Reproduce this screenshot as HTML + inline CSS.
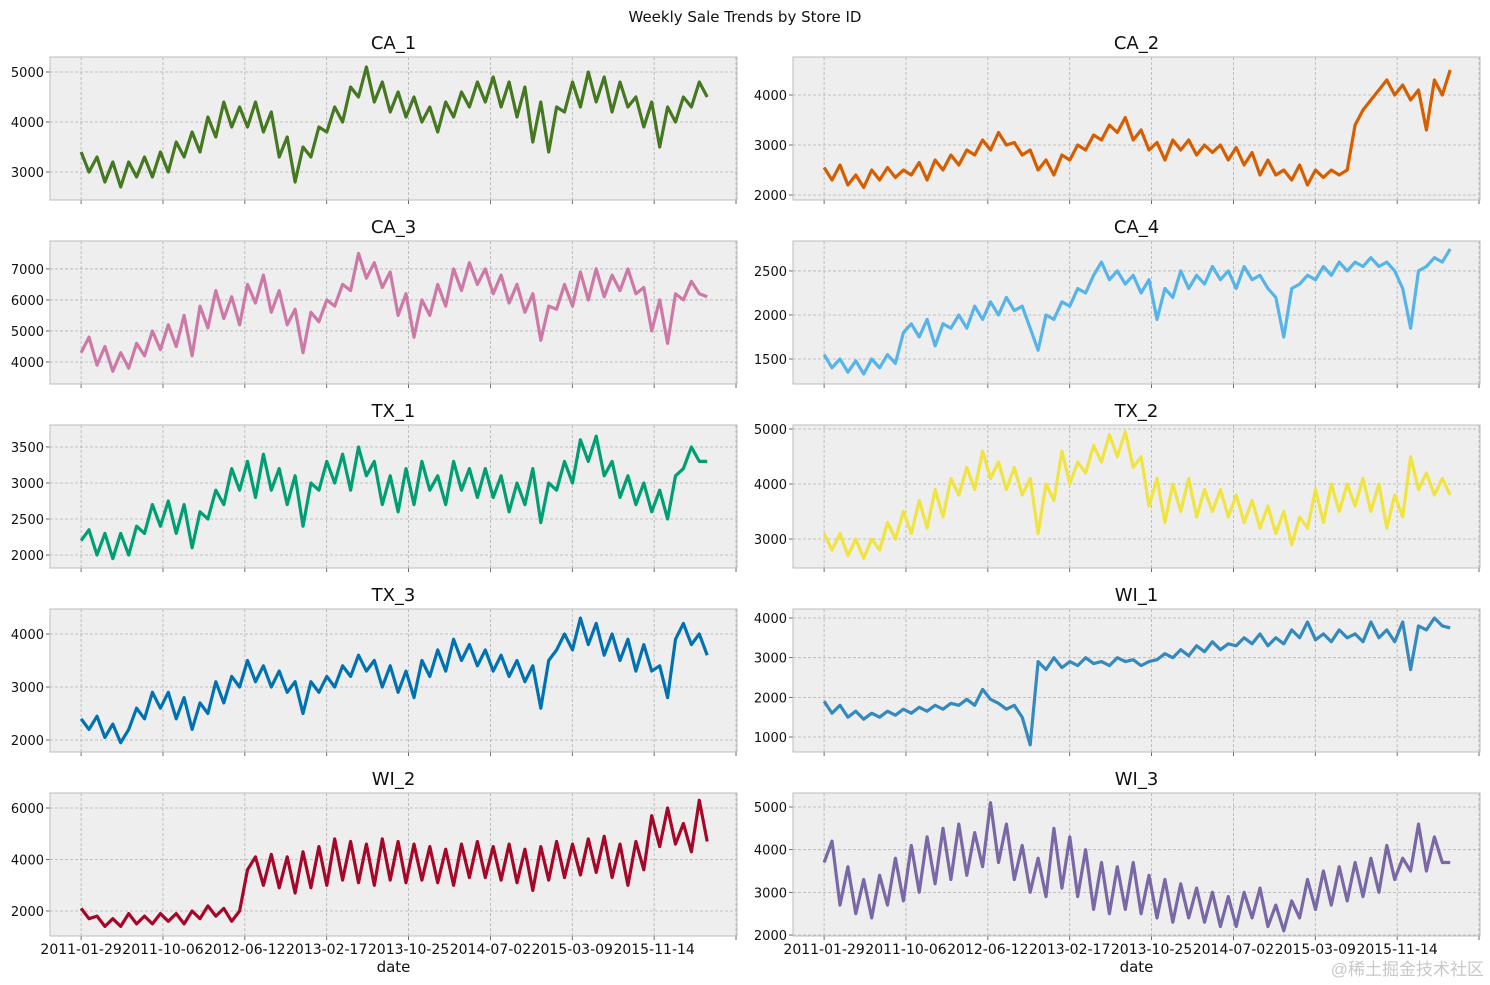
<!DOCTYPE html>
<html><head><meta charset="utf-8"><style>
html,body{margin:0;padding:0;background:#fff;}
svg{display:block;font-family:"DejaVu Sans","Liberation Sans",sans-serif;}
</style></head><body>
<svg id="fig" width="1490" height="985" viewBox="0 0 1490 985">
<text x="745" y="22" text-anchor="middle" font-size="15" fill="#111">Weekly Sale Trends by Store ID</text>
<text x="1484" y="975" text-anchor="end" font-size="17" fill="#c8c8c8" font-family="'Liberation Sans','Noto Sans CJK SC',sans-serif">@稀土掘金技术社区</text>
</svg>
<script>
const stores = ["CA_1","CA_2","CA_3","CA_4","TX_1","TX_2","TX_3","WI_1","WI_2","WI_3"];
const colors = ["#467821","#D55E00","#CC79A7","#56B4E9","#009E73","#F0E442","#0072B2","#348ABD","#A60628","#7A68A6"];
const xTickLabels = ["2011-01-29","2011-10-06","2012-06-12","2013-02-17","2013-10-25","2014-07-02","2015-03-09","2015-11-14"];
const xTickDays = [0,250,500,750,1000,1250,1500,1750,2000];
const lastDay = 1912;
const CA_1 = [3400,3000,3300,2800,3200,2700,3200,2900,3300,2900,3400,3000,3600,3300,3800,3400,4100,3700,4400,3900,4300,3900,4400,3800,4200,3300,3700,2800,3500,3300,3900,3800,4300,4000,4700,4500,5100,4400,4800,4200,4600,4100,4500,4000,4300,3800,4400,4100,4600,4300,4800,4400,4900,4300,4800,4100,4700,3600,4400,3400,4300,4200,4800,4300,5000,4400,4900,4200,4800,4300,4500,3900,4400,3500,4300,4000,4500,4300,4800,4500];
const CA_2 = [2550,2300,2600,2200,2400,2150,2500,2300,2550,2350,2500,2400,2650,2300,2700,2500,2800,2600,2900,2800,3100,2900,3250,3000,3050,2800,2900,2500,2700,2400,2800,2700,3000,2900,3200,3100,3400,3250,3550,3100,3300,2900,3050,2700,3100,2900,3100,2800,3000,2850,3000,2700,2950,2600,2850,2400,2700,2400,2500,2300,2600,2200,2500,2350,2500,2400,2500,3400,3700,3900,4100,4300,4000,4200,3900,4100,3300,4300,4000,4500];
const CA_3 = [4300,4800,3900,4500,3700,4300,3800,4600,4200,5000,4400,5200,4500,5500,4200,5800,5100,6300,5400,6100,5200,6500,5900,6800,5600,6300,5200,5700,4300,5600,5300,6000,5800,6500,6300,7500,6700,7200,6400,6900,5500,6200,4800,6000,5500,6500,5800,7000,6300,7200,6500,7000,6200,6800,5900,6500,5600,6200,4700,5800,5700,6500,5800,6900,6000,7000,6100,6800,6300,7000,6200,6400,5000,6000,4600,6200,6000,6600,6200,6100];
const CA_4 = [1550,1400,1500,1350,1480,1330,1500,1400,1550,1450,1800,1900,1750,1950,1650,1900,1850,2000,1850,2100,1950,2150,2000,2200,2050,2100,1850,1600,2000,1950,2150,2100,2300,2250,2450,2600,2400,2500,2350,2450,2250,2400,1950,2300,2200,2500,2300,2450,2350,2550,2400,2500,2300,2550,2400,2450,2300,2200,1750,2300,2350,2450,2400,2550,2450,2600,2500,2600,2550,2650,2550,2600,2500,2300,1850,2500,2550,2650,2600,2750];
const TX_1 = [2200,2350,2000,2300,1950,2300,2000,2400,2300,2700,2400,2750,2300,2700,2100,2600,2500,2900,2700,3200,2900,3300,2800,3400,2900,3200,2700,3100,2400,3000,2900,3300,3000,3400,2900,3500,3100,3300,2700,3100,2600,3200,2700,3300,2900,3100,2700,3300,2900,3200,2800,3200,2800,3100,2600,3000,2700,3200,2450,3000,2900,3300,3000,3600,3300,3650,3100,3300,2800,3100,2700,3000,2600,2900,2500,3100,3200,3500,3300,3300];
const TX_2 = [3100,2800,3100,2700,3000,2650,3000,2800,3300,3000,3500,3100,3700,3200,3900,3400,4100,3800,4300,3900,4600,4100,4400,3900,4300,3800,4100,3100,4000,3700,4600,4000,4400,4200,4700,4400,4900,4500,4950,4300,4500,3600,4100,3300,4000,3500,4100,3400,3900,3500,3900,3400,3800,3300,3700,3200,3600,3100,3500,2900,3400,3200,3900,3300,4000,3500,4000,3600,4100,3500,4000,3200,3800,3400,4500,3900,4200,3800,4100,3800];
const TX_3 = [2400,2200,2450,2050,2300,1950,2200,2600,2400,2900,2600,2900,2400,2800,2200,2700,2500,3100,2700,3200,3000,3500,3100,3400,3000,3300,2900,3100,2500,3100,2900,3200,3000,3400,3200,3600,3300,3500,3000,3400,2900,3300,2800,3500,3200,3700,3300,3900,3500,3800,3400,3700,3300,3600,3200,3500,3100,3400,2600,3500,3700,4000,3700,4300,3800,4200,3600,4000,3500,3900,3300,3800,3300,3400,2800,3900,4200,3800,4000,3600];
const WI_1 = [1900,1600,1800,1500,1650,1450,1600,1500,1650,1550,1700,1600,1750,1650,1800,1700,1850,1800,1950,1800,2200,1950,1850,1700,1800,1500,800,2900,2700,3000,2750,2900,2800,3000,2850,2900,2800,3000,2900,2950,2800,2900,2950,3100,3000,3200,3050,3300,3150,3400,3200,3350,3300,3500,3350,3600,3300,3500,3350,3700,3500,3900,3450,3600,3400,3700,3500,3600,3400,3900,3500,3700,3400,3900,2700,3800,3700,4000,3800,3750];
const WI_2 = [2100,1700,1800,1400,1700,1400,1900,1500,1800,1500,1900,1600,1900,1500,2000,1700,2200,1800,2100,1600,2000,3600,4100,3000,4200,2900,4100,2700,4300,2900,4500,3000,4800,3200,4700,3100,4600,3000,4800,3200,4700,3100,4600,3200,4500,3100,4400,3000,4600,3300,4700,3300,4500,3200,4600,3100,4400,2800,4500,3200,4700,3300,4600,3400,4800,3500,4900,3300,4600,3000,4700,3600,5700,4500,6000,4600,5400,4300,6300,4700];
const WI_3 = [3700,4200,2700,3600,2500,3300,2400,3400,2700,3800,2800,4100,3000,4300,3200,4500,3300,4600,3400,4400,3600,5100,3700,4600,3300,4100,3000,3800,2900,4500,3100,4300,2900,4000,2600,3700,2500,3600,2600,3700,2500,3400,2400,3300,2300,3200,2400,3100,2300,3000,2200,2900,2200,3000,2400,3100,2200,2700,2100,2800,2400,3300,2600,3500,2700,3600,2800,3700,2900,3800,3000,4100,3300,3800,3500,4600,3500,4300,3700,3700];
const series = [CA_1,CA_2,CA_3,CA_4,TX_1,TX_2,TX_3,WI_1,WI_2,WI_3];
const ylims = [[2440,5300],[1900,4760],[3290,7900],[1216,2840],[1820,3805],[2473,5073],[1774,4472],[622,4227],[1029,6583],[1977,5328]];
const yticks = [[3000,4000,5000],[2000,3000,4000],[4000,5000,6000,7000],[1500,2000,2500],[2000,2500,3000,3500],[3000,4000,5000],[2000,3000,4000],[1000,2000,3000,4000],[2000,4000,6000],[2000,3000,4000,5000]];

const NS="http://www.w3.org/2000/svg";
const svg=document.getElementById('fig');
function mk(tag,attrs,parent){const e=document.createElementNS(NS,tag);for(const k in attrs)e.setAttribute(k,attrs[k]);(parent||svg).appendChild(e);return e;}
const X0=[50,793], W=687, Y0=[57,241,425,609,793], H=143;
const xlim=[-95,2003];
series.forEach((vals,k)=>{
  const col=k%2,row=Math.floor(k/2);
  const ax=X0[col],ay=Y0[row];
  const g=mk('g',{});
  
  
  const xs=d=>ax+(d-xlim[0])/(xlim[1]-xlim[0])*W;
  const ys=v=>ay+H-(v-ylims[k][0])/(ylims[k][1]-ylims[k][0])*H;
  const bg=mk('rect',{x:ax,y:ay,width:W,height:H,fill:'#eeeeee'},g);
  
  
  xTickDays.forEach((d,i)=>{
    const x=xs(d);
    mk('line',{x1:x,x2:x,y1:ay,y2:ay+H,stroke:'#b2b2b2','stroke-width':0.8,'stroke-dasharray':'3,2'},g);
    mk('line',{x1:x,x2:x,y1:ay+H,y2:ay+H+4,stroke:'#444','stroke-width':0.8},g);
    if(row===4&&i<xTickLabels.length){
      const t=mk('text',{x:x,y:ay+H+18,'text-anchor':'middle','font-size':14,fill:'#111'},g);
      t.textContent=xTickLabels[i];
      
      
    }
  });
  yticks[k].forEach(v=>{
    const y=ys(v);
    mk('line',{x1:ax,x2:ax+W,y1:y,y2:y,stroke:'#b2b2b2','stroke-width':0.8,'stroke-dasharray':'3,2'},g);
    mk('line',{x1:ax-4,x2:ax,y1:y,y2:y,stroke:'#444','stroke-width':0.8},g);
    const t=mk('text',{x:ax-6,y:y+5,'text-anchor':'end','font-size':13,fill:'#111'},g);
    t.textContent=v;
    
    
  });
  mk('rect',{x:ax,y:ay,width:W,height:H,fill:'none',stroke:'#bcbcbc','stroke-width':1},g);
  const n=vals.length;
  const pts=vals.map((v,i)=>xs(i*lastDay/(n-1)).toFixed(1)+','+ys(v).toFixed(1)).join(' ');
  const pl=mk('polyline',{points:pts,fill:'none',stroke:colors[k],'stroke-width':3.2,'stroke-linejoin':'round'},g);
  
  
  const tt=mk('text',{x:ax+W/2,y:ay-8,'text-anchor':'middle','font-size':18,fill:'#111'},g);
  tt.textContent=stores[k];
  
  
  if(row===4){
    const xl=mk('text',{x:ax+W/2,y:972,'text-anchor':'middle','font-size':15,fill:'#111'},g);
    xl.textContent='date';
    
    
  }
});
</script>
</body></html>
